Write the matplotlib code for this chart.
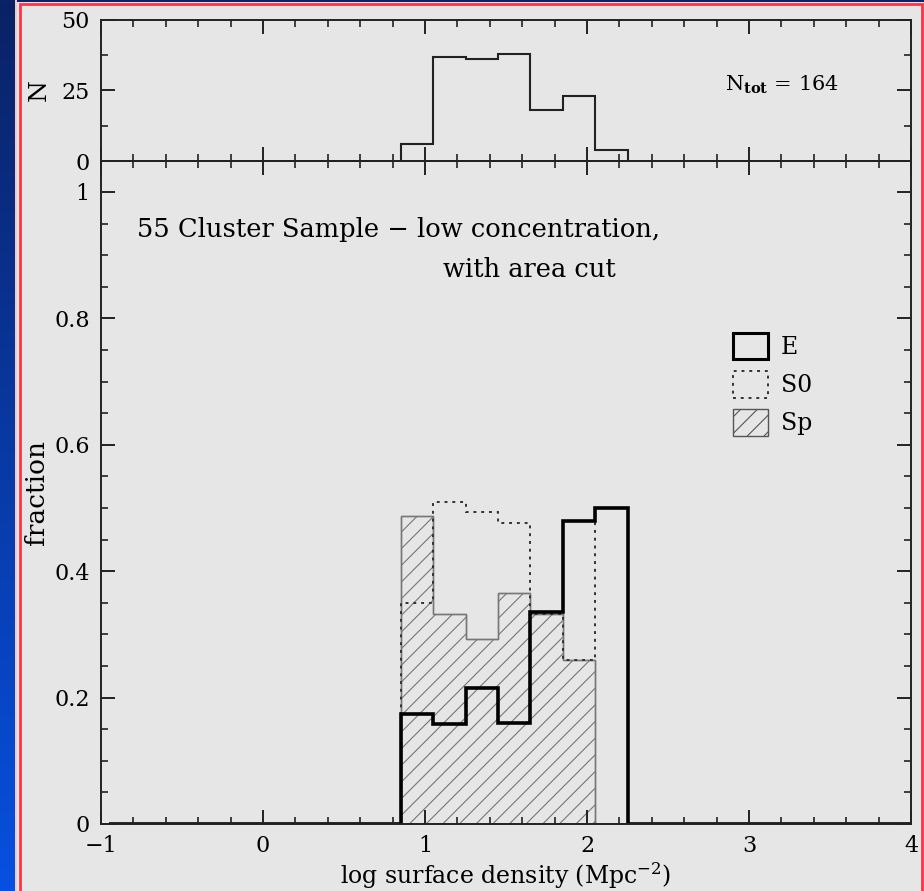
import numpy as np
import matplotlib.pyplot as plt
from matplotlib.patches import Patch, Rectangle
from matplotlib.colors import LinearSegmentedColormap
from matplotlib.ticker import MultipleLocator

# bin edges (log surface density, Mpc^-2)
edges = [0.85, 1.05, 1.25, 1.45, 1.65, 1.85, 2.05, 2.25]

# number of galaxies per bin (top panel)
n_counts = [6, 37, 36, 38, 18, 23, 4]

# morphological fractions per bin
frac_E = [0.174, 0.158, 0.215, 0.160, 0.335, 0.480, 0.500]
frac_S0 = [0.349, 0.509, 0.493, 0.477, 0.333, 0.260, 0.500]
frac_Sp = [0.488, 0.333, 0.292, 0.365, 0.333, 0.260, 0.0]

n_tot = 164

plt.rcParams['font.family'] = 'DejaVu Serif'
plt.rcParams['mathtext.fontset'] = 'dejavuserif'
plt.rcParams['hatch.linewidth'] = 0.8
plt.rcParams['hatch.color'] = '#555555'

W, H = 924, 891
fig = plt.figure(figsize=(W / 100, H / 100), dpi=100, facecolor='#e6e6e6')

# slide background: blue strip on the left, red frame
bg = fig.add_axes([0, 0, 15 / W, 1])
grad = np.linspace(0, 1, 256).reshape(-1, 1)
cmap = LinearSegmentedColormap.from_list('slide', ['#0a2266', '#0750e0'])
bg.imshow(grad, aspect='auto', cmap=cmap, extent=[0, 1, 0, 1])
bg.axis('off')
fig.add_artist(Rectangle((0, 1 - 2 / H), 1, 2 / H, transform=fig.transFigure,
                         facecolor='#0a2266', edgecolor='none'))
fig.add_artist(Rectangle((15 / W, 0), 2 / W, 1, transform=fig.transFigure,
                         facecolor='#f0c8cc', edgecolor='none'))
fig.add_artist(Rectangle((19.5 / W, -0.01), 902 / W, 1 - 4 / H + 0.01,
                         transform=fig.transFigure, facecolor='none',
                         edgecolor='#ff3344', linewidth=2.0))

left, right = 101 / W, 911 / W
ax_top = fig.add_axes([left, (H - 161) / H, right - left, 141 / H])
ax = fig.add_axes([left, (H - 824) / H, right - left, 663 / H])

for a in (ax_top, ax):
    a.set_facecolor('none')
    for s in a.spines.values():
        s.set_linewidth(1.4)
        s.set_color('#222222')
    a.tick_params(which='both', direction='in', top=True, right=True,
                  labelsize=16, pad=8, color='#222222')
    a.tick_params(which='major', length=10, width=1.4)
    a.tick_params(which='minor', length=5, width=1.2)
    a.set_xlim(-1, 4)
    a.xaxis.set_major_locator(MultipleLocator(1))
    a.xaxis.set_minor_locator(MultipleLocator(0.2))

# top panel: counts
ax_top.stairs(n_counts, edges, color='#222222', linewidth=1.5)
ax_top.set_ylim(0, 50)
ax_top.yaxis.set_major_locator(MultipleLocator(25))
ax_top.yaxis.set_minor_locator(MultipleLocator(12.5))
ax_top.tick_params(labelbottom=False)
ax_top.set_ylabel('N', fontsize=18, labelpad=8)
ax_top.text(2.852, 27, r'N$_{\mathbf{tot}}$ = ' + str(n_tot),
            fontsize=15, va='center', ha='left')

# bottom panel: fractions
step = edges[1] - edges[0]
pad = 9
full_edges = np.round(np.concatenate([edges[0] - step * np.arange(pad, 0, -1),
                                      edges,
                                      edges[-1] + step * np.arange(1, pad + 1)]), 3)
e_full = np.concatenate([np.zeros(pad), frac_E, np.zeros(pad)])

ax.stairs(frac_Sp, edges, fill=True, hatch='//', facecolor='none',
          edgecolor='#777777', linewidth=1.0)
ax.stairs(frac_Sp, edges, color='#777777', linewidth=1.0)
ax.stairs(frac_S0, edges, color='#333333', linewidth=1.4, linestyle=(0, (1.5, 2.5)))
ax.stairs(e_full, full_edges, color='black', linewidth=2.6)

ax.set_ylim(0, 663 / 632)
ax.yaxis.set_minor_locator(MultipleLocator(0.05))
ax.set_yticks([0, 0.2, 0.4, 0.6, 0.8, 1.0])
ax.set_yticklabels(['0', '0.2', '0.4', '0.6', '0.8', '1'])
ax.set_xticks([-1, 0, 1, 2, 3, 4])
ax.set_xticklabels(['\u22121', '0', '1', '2', '3', '4'])
ax.set_ylabel('fraction', fontsize=19, labelpad=4)
ax.set_xlabel('log surface density (Mpc$^{-2}$)', fontsize=17, labelpad=2)

ax.text(-0.778, 0.94, '55 Cluster Sample \u2212 low concentration,',
        fontsize=18.5, va='center', ha='left')
ax.text(1.111, 0.877, 'with area cut', fontsize=18.5, va='center', ha='left')

handles = [
    Patch(facecolor='none', edgecolor='black', linewidth=2.2, label='E'),
    Patch(facecolor='none', edgecolor='#333333', linewidth=1.4,
          linestyle=(0, (1.5, 2.5)), label='S0'),
    Patch(facecolor='none', edgecolor='#555555', linewidth=1.0, hatch='//',
          label='Sp'),
]
ax.legend(handles=handles, loc='upper left', bbox_to_anchor=(0.780, 0.741),
          frameon=False, fontsize=17, handlelength=1.48, handleheight=1.35,
          labelspacing=0.5, handletextpad=0.55, borderpad=0, borderaxespad=0)

fig.savefig('out.png', dpi=100, facecolor=fig.get_facecolor())
